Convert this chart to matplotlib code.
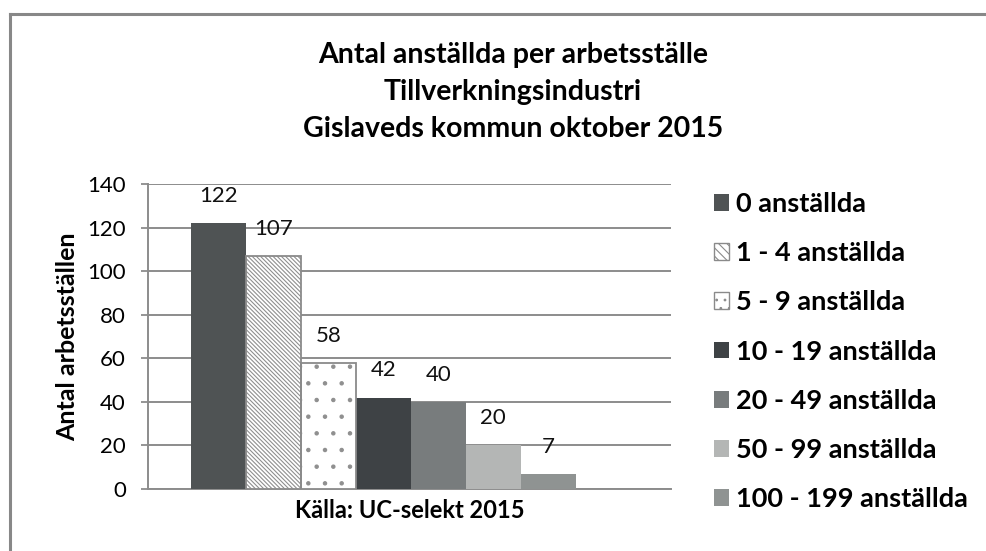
import numpy as np
import matplotlib.pyplot as plt
from matplotlib.lines import Line2D
from matplotlib.patches import Patch

plt.rcParams['font.family'] = ['Lato', 'DejaVu Sans']
plt.rcParams['hatch.linewidth'] = 0.8

# data
titel = 'Antal anställda per arbetsställe\nTillverkningsindustri\nGislaveds kommun oktober 2015'
grupper = ['0 anställda', '1 - 4 anställda', '5 - 9 anställda', '10 - 19 anställda',
           '20 - 49 anställda', '50 - 99 anställda', '100 - 199 anställda']
antal = [122, 107, 58, 42, 40, 20, 7]
y_ticks = [0, 20, 40, 60, 80, 100, 120, 140]

# utseende per serie
farger = ['#4f5354', 'white', 'white', '#3e4245', '#787c7d', '#b4b6b5', '#8f9392']
monster = [None, '\\' * 8, '.', None, None, None, None]
monsterfarg = '#8f8f8f'
kantfarg = '#8a8a8a'

W, H = 987, 551
fig = plt.figure(figsize=(W / 100, H / 100), dpi=100)
ax = fig.add_axes([148 / W, 1 - 489 / H, (671 - 148) / W, (489 - 184) / H])

handles = []
for i, (g, v) in enumerate(zip(grupper, antal)):
  if monster[i]:
    # monster i ljusgratt, sedan kant ovanpa
    ax.bar(i, v, width=1, align='edge', color='white', edgecolor=monsterfarg,
           hatch=monster[i], linewidth=0, zorder=3)
    ax.bar(i, v, width=1, align='edge', fill=False, edgecolor=kantfarg,
           linewidth=1.3, zorder=4)
    handles.append(Patch(facecolor='white', edgecolor=kantfarg,
                         hatch=monster[i][:4] if i == 1 else '..', linewidth=1, label=g))
  else:
    ax.bar(i, v, width=1, align='edge', color=farger[i], linewidth=0, zorder=3)
    handles.append(Patch(facecolor=farger[i], linewidth=0, label=g))
  ax.annotate(str(v), (i + 0.5, v), xytext=(0, 19.5), textcoords='offset points',
              ha='center', va='center', fontsize=16, color='#111111')

ax.set_xlim(-0.78, 8.73)
ax.set_ylim(0, 140)
ax.set_yticks(y_ticks)
ax.set_xticks([])
ax.tick_params(axis='y', length=5, width=1.3, color='#8c8c8c', labelsize=16, pad=11)
ax.yaxis.grid(True, color='#8c8c8c', linewidth=1.4, zorder=0)
ax.set_axisbelow(True)
for s in ['top', 'right']:
  ax.spines[s].set_visible(False)
for s in ['left', 'bottom']:
  ax.spines[s].set_color('#8c8c8c')
  ax.spines[s].set_linewidth(1.4)

ax.set_ylabel('Antal arbetsställen', fontsize=18, fontweight='bold', labelpad=6)
ax.set_xlabel('Källa: UC-selekt 2015', fontsize=17, fontweight='bold', labelpad=7)

fig.text(513 / W, 1 - 92 / H, titel, ha='center', va='center', fontsize=20.5,
         fontweight='bold', linespacing=1.52)

fig.legend(handles=handles, loc='upper left', bbox_to_anchor=(714 / W, 1 - 192 / H),
           frameon=False, prop={'weight': 'bold', 'size': 19.5}, handlelength=0.57,
           handleheight=0.57, handletextpad=0.25, labelspacing=0.93, borderpad=0,
           borderaxespad=0)

# ram runt diagrammet
fig.add_artist(Line2D([9.5 / W, 9.5 / W], [-0.05, 1 - 14 / H], transform=fig.transFigure,
                      color='#888888', linewidth=2.2))
fig.add_artist(Line2D([9.5 / W, 1.05], [1 - 14 / H, 1 - 14 / H], transform=fig.transFigure,
                      color='#888888', linewidth=2.2))

fig.savefig('out.png', dpi=100)
